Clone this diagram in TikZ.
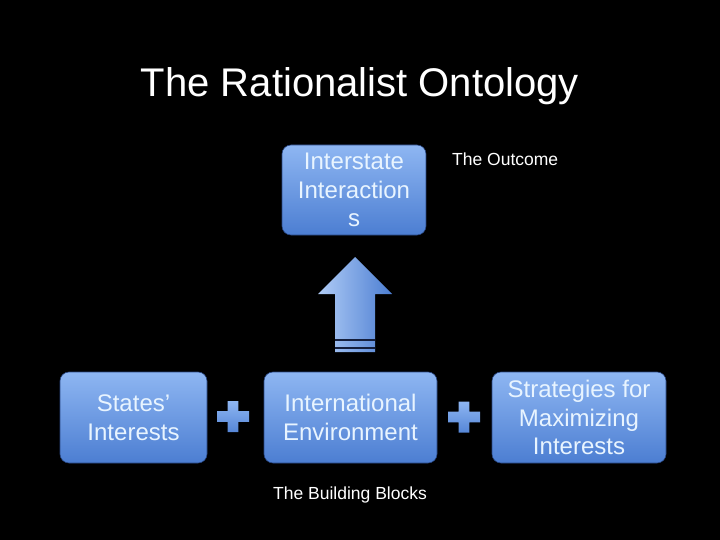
\documentclass[tikz,border=0pt]{standalone}
\usepackage{fontspec}
\setmainfont{Liberation Sans}
\usetikzlibrary{positioning,shapes}

\definecolor{boxtop}{RGB}{142,182,242}
\definecolor{boxbot}{RGB}{76,126,210}
\definecolor{boxline}{RGB}{40,70,130}
\definecolor{boxtext}{RGB}{232,244,255}
\definecolor{stripe}{RGB}{20,30,60}

\begin{document}
\begin{tikzpicture}[x=1pt,y=-1pt]
	\tikzset{block/.style={rectangle,rounded corners=9pt,top color=boxtop,bottom color=boxbot,
		draw=boxline,line width=0.6pt,text=boxtext,align=center,inner sep=0pt,
		font=\fontsize{24}{28.5}\selectfont},
		note/.style={text=white,font=\fontsize{17.5}{21}\selectfont,inner sep=0pt},
		plussign/.style={top color=boxtop,bottom color=boxbot!85!boxtop,draw=none}}
	\fill[black] (0,0) rectangle (720,540);
	\node[text=white,font=\fontsize{40}{46}\selectfont] (title) at (360,86) {The Rationalist Ontology};
	\node[block,minimum width=144pt,minimum height=90pt] (inter) at (354,190) {Interstate\\Interaction\\s};
	\node[block,minimum width=147pt,minimum height=91pt] (states) at (133.5,417.5) {States’\\Interests};
	\node[block,minimum width=173pt,minimum height=91pt] (envir) at (350.5,417.5) {International\\Environment};
	\node[block,minimum width=174pt,minimum height=91pt] (strat) at (579,417.5) {Strategies for\\Maximizing\\Interests};
	\node[note,anchor=west] (outcome) at (452,159) {The Outcome};
	\node[note] (blocks) at (350,495) {The Building Blocks};
	% block arrow up to the outcome
	\fill[left color=boxtop!70!white,right color=boxbot]
		(355,257) -- (392,294) -- (375,294) -- (375,352) -- (335,352) -- (335,294) -- (318,294) -- cycle;
	\draw[stripe,line width=1.4pt] (335,340) -- (375,340);
	\draw[stripe,line width=1.4pt] (335,348) -- (375,348);
	% plus signs
	\foreach \cx/\cy in {233/416.5, 464/417}{
		\fill[plussign] (\cx-16,\cy-5.3) -- (\cx-5.3,\cy-5.3) -- (\cx-5.3,\cy-15.5) -- (\cx+5.3,\cy-15.5)
			-- (\cx+5.3,\cy-5.3) -- (\cx+16,\cy-5.3) -- (\cx+16,\cy+5.3) -- (\cx+5.3,\cy+5.3)
			-- (\cx+5.3,\cy+15.5) -- (\cx-5.3,\cy+15.5) -- (\cx-5.3,\cy+5.3) -- (\cx-16,\cy+5.3) -- cycle;
	}
\end{tikzpicture}
\end{document}
